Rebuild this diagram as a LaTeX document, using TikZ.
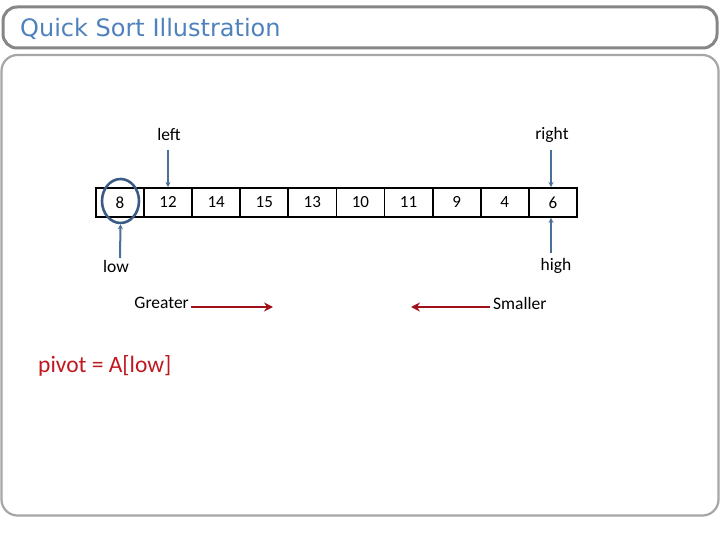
\documentclass[tikz,border=0pt]{standalone}
\usepackage{fontspec}
\setmainfont{Carlito}
\newfontfamily\titlefont{DejaVu Sans}
\usetikzlibrary{arrows.meta,shapes.geometric}
\definecolor{titleblue}{HTML}{4F81BD}
\definecolor{ptrblue}{HTML}{4A6F98}
\definecolor{ringblue}{HTML}{3B5B85}
\definecolor{darkred}{HTML}{A0101A}
\definecolor{pivred}{HTML}{C0181E}
\tikzset{
  cellbox/.style={draw=black, line width=1.8pt, minimum width=48.1pt, minimum height=29pt, inner sep=0pt, anchor=north west, font=\fontsize{17}{17}\selectfont},
  lbl/.style={font=\fontsize{17.5}{18}\selectfont, inner sep=0pt},
  ptr/.style={draw=ptrblue, line width=2pt, -{Stealth[length=5pt,width=5pt]}},
  redarrow/.style={draw=darkred, line width=2.4pt, -{Stealth[length=9pt,width=9pt]}}
}
\begin{document}
\begin{tikzpicture}[x=1pt,y=-1pt]
\useasboundingbox (0,0) rectangle (720,540);
\fill[white] (0,0) rectangle (720,540);
% title box
\draw[draw=gray!95, line width=3pt, rounded corners=14pt] (3,7) rectangle (717,48);
\node[anchor=west, text=titleblue, font=\titlefont\fontsize{24}{25}\selectfont, inner sep=0pt] (title) at (20,29) {Quick Sort Illustration};
% content box
\draw[draw=black!35, line width=2.2pt, rounded corners=16pt] (1.5,55) rectangle (718.5,515.5);
% array
\foreach \v [count=\i from 0] in {8,12,14,15,13,10,11,9,4,6} {
  \node[cellbox] (c\i) at ({95+48.1*\i},187) {\v};
}
% ring around pivot
\node[draw=ringblue, line width=2.6pt, ellipse, minimum width=37pt, minimum height=44pt, inner sep=0pt] (ring) at (120.5,201) {};
% pointers
\node[lbl] (left) at (169,134) {left};
\node[lbl] (right) at (552,135) {right};
\node[lbl] (low) at (116,266) {low};
\node[lbl] (high) at (556,266) {high};
\coordinate (lefttop) at (168,150);
\coordinate (righttop) at (551,150);
\coordinate (lowbot) at (120,258);
\coordinate (highbot) at (551,253);
\draw[ptr] (lefttop) -- (c1.north -| lefttop);
\draw[ptr] (righttop) -- (c9.north -| righttop);
\draw[ptr] (lowbot) -- (ring.south);
\draw[ptr] (highbot) -- (c9.south -| highbot);
% greater / smaller
\node[lbl, anchor=east] (greater) at (189,303) {Greater};
\node[lbl, anchor=west] (smaller) at (493,303) {Smaller};
\coordinate (gend) at (273,307);
\coordinate (send) at (411,307);
\draw[redarrow] (greater.east |- gend) ++(2,0) coordinate (gstart) -- (gend);
\draw[redarrow] (smaller.west |- send) ++(-3,0) coordinate (sstart) -- (send);
% pivot
\node[anchor=west, text=pivred, font=\fontsize{23.5}{24}\selectfont, inner sep=0pt] (pivot) at (38,366) {pivot = A[low]};
\end{tikzpicture}
\end{document}
